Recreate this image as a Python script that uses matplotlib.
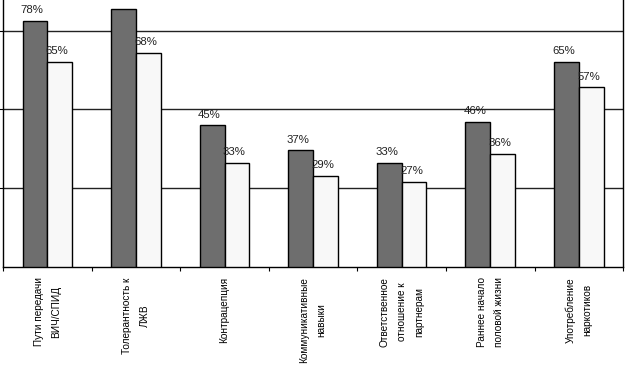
import matplotlib.pyplot as plt
import numpy as np

# --- данные ---
categories = [
    'Пути передачи\nВИЧ/СПИД',
    'Толерантность к\nЛЖВ',
    'Контрацепция',
    'Коммуникативные\nнавыки',
    'Ответственное\nотношение к\nпартнерам',
    'Раннее начало\nполовой жизни',
    'Употребление\nнаркотиков',
]
series_dark = [78, 82, 45, 37, 33, 46, 65]
series_light = [65, 68, 33, 29, 27, 36, 57]
grid_levels = [25, 50, 75]

plt.rcParams['font.family'] = ['Liberation Sans', 'DejaVu Sans']

fig = plt.figure(figsize=(6.25, 3.81), dpi=100)
ax = fig.add_axes([0.005, 0.299, 0.992, 0.701])

x = np.arange(len(categories))
w = 0.28
y_top = 84.7

ax.bar(x - w / 2, series_dark, w, color='#6e6e6e', edgecolor='black', linewidth=1.0, zorder=3)
ax.bar(x + w / 2, series_light, w, color='#f8f8f8', edgecolor='black', linewidth=1.0, zorder=3)

# подписи значений над столбцами (то, что выходит за обрез, на исходнике не видно)
for xs, vals in [(x - w / 2, series_dark), (x + w / 2, series_light)]:
    for xi, v in zip(xs, vals):
        if v + 5 > y_top:
            continue
        ax.text(xi - 0.03, v + 1.8, f'{v}%', ha='center', va='bottom',
                fontsize=8.2, color='#222222', zorder=4)

for g in grid_levels:
    ax.axhline(g, color='#222222', linewidth=1.0, zorder=1)

ax.set_xlim(-0.5, len(categories) - 0.5)
ax.set_ylim(0, y_top)

ax.set_yticks(grid_levels)
ax.set_yticklabels([])
ax.tick_params(axis='y', length=3, direction='out')

ax.set_xticks(np.arange(len(categories) + 1) - 0.5)
ax.set_xticklabels([])
ax.tick_params(axis='x', length=3, direction='out')

for xi, lab in zip(x, categories):
    ax.text(xi, -3.2, lab, rotation=90, ha='center', va='top', multialignment='center',
            fontsize=7.2, linespacing=1.9, clip_on=False)

ax.spines['top'].set_visible(False)
for s in ['left', 'bottom', 'right']:
    ax.spines[s].set_linewidth(1.0)
    ax.spines[s].set_color('black')

plt.savefig('out.png', dpi=100)
